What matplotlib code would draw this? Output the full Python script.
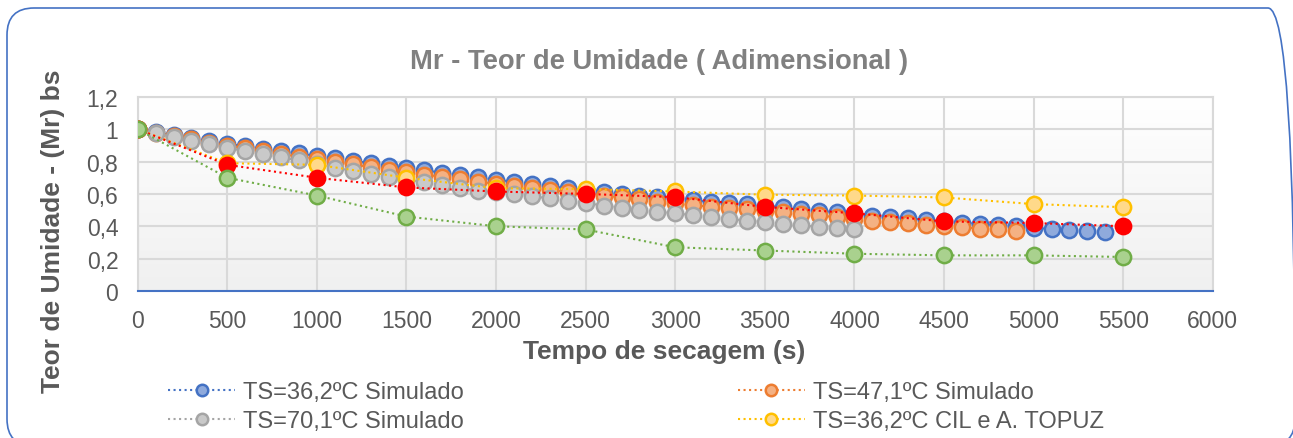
import numpy as np
import matplotlib
matplotlib.use("Agg")
import matplotlib.pyplot as plt
from matplotlib.patches import FancyBboxPatch
from matplotlib.transforms import IdentityTransform
from matplotlib.colors import LinearSegmentedColormap
from matplotlib.ticker import FuncFormatter

plt.rcParams['font.family'] = ['Liberation Sans', 'DejaVu Sans']

# simulated curves (every 100 s)
t_sim36 = list(range(0, 5500, 100))
mr_sim36 = [1.0, 0.98, 0.962, 0.944, 0.927, 0.91, 0.895, 0.88, 0.865, 0.85,
            0.835, 0.82, 0.805, 0.79, 0.775, 0.76, 0.746, 0.731, 0.717, 0.702,
            0.688, 0.675, 0.661, 0.648, 0.635, 0.622, 0.61, 0.6, 0.59, 0.58,
            0.57, 0.56, 0.551, 0.543, 0.535, 0.526, 0.518, 0.508, 0.497, 0.487,
            0.476, 0.466, 0.457, 0.448, 0.44, 0.432, 0.423, 0.415, 0.407, 0.399,
            0.39, 0.383, 0.376, 0.369, 0.363]

t_sim47 = list(range(0, 5000, 100))
mr_sim47 = [1.0, 0.978, 0.957, 0.937, 0.917, 0.898, 0.881, 0.864, 0.847, 0.83,
            0.814, 0.798, 0.782, 0.766, 0.75, 0.735, 0.72, 0.705, 0.69, 0.676,
            0.662, 0.648, 0.636, 0.624, 0.612, 0.6, 0.59, 0.578, 0.566, 0.553,
            0.541, 0.53, 0.521, 0.512, 0.504, 0.495, 0.487, 0.477, 0.467, 0.456,
            0.445, 0.435, 0.426, 0.418, 0.41, 0.401, 0.393, 0.386, 0.38, 0.373]

t_sim70 = list(range(0, 4100, 100))
mr_sim70 = [1.0, 0.975, 0.952, 0.93, 0.907, 0.885, 0.865, 0.845, 0.826, 0.807,
            0.784, 0.762, 0.743, 0.724, 0.704, 0.688, 0.673, 0.655, 0.637, 0.62,
            0.61, 0.6, 0.586, 0.572, 0.558, 0.545, 0.528, 0.515, 0.503, 0.491,
            0.48, 0.468, 0.456, 0.445, 0.435, 0.425, 0.415, 0.405, 0.397, 0.388,
            0.38]

# experimental points (every 500 s)
t_exp = [0, 500, 1000, 1500, 2000, 2500, 3000, 3500, 4000, 4500, 5000, 5500]
mr_topuz = [1.0, 0.79, 0.78, 0.70, 0.635, 0.63, 0.615, 0.595, 0.59, 0.578, 0.537, 0.518]
mr_red = [1.0, 0.78, 0.70, 0.64, 0.615, 0.60, 0.58, 0.52, 0.48, 0.43, 0.42, 0.40]
mr_green = [1.0, 0.70, 0.59, 0.46, 0.40, 0.38, 0.27, 0.25, 0.23, 0.22, 0.22, 0.21]

x_ticks = [0, 500, 1000, 1500, 2000, 2500, 3000, 3500, 4000, 4500, 5000, 5500, 6000]
y_ticks = [0, 0.2, 0.4, 0.6, 0.8, 1.0, 1.2]

fig = plt.figure(figsize=(12.93, 4.39), dpi=100)
ax = fig.add_axes([0.1065, 0.335, 0.8315, 0.442])

# rounded frame around the chart (pixel coords)
frame = FancyBboxPatch((7, -8), 1288, 438,
                       boxstyle="round,pad=0,rounding_size=27",
                       transform=IdentityTransform(), fill=False,
                       edgecolor='#4472C4', linewidth=1.2, zorder=0)
fig.patches.append(frame)

# light gradient in the plot area
grad = np.linspace(1, 0, 100).reshape(-1, 1)
ax.imshow(grad, extent=[0, 1, 0, 1], transform=ax.transAxes, aspect='auto',
          cmap=LinearSegmentedColormap.from_list('g', ['#F0F0F0', '#FFFFFF']),
          zorder=0)

ms = 11
l_blue, = ax.plot(t_sim36, mr_sim36, ':', color='#4472C4', lw=1.5, marker='o', ms=ms,
                  mfc='#8FAADC', mec='#4472C4', mew=1.8, zorder=3,
                  label='TS=36,2ºC Simulado')
l_orange, = ax.plot(t_sim47, mr_sim47, ':', color='#ED7D31', lw=1.5, marker='o', ms=ms,
                    mfc='#F4B183', mec='#ED7D31', mew=1.8, zorder=4,
                    label='TS=47,1ºC Simulado')
l_gray, = ax.plot(t_sim70, mr_sim70, ':', color='#A5A5A5', lw=1.5, marker='o', ms=ms,
                  mfc='#C9C9C9', mec='#A5A5A5', mew=1.8, zorder=5,
                  label='TS=70,1ºC Simulado')
l_yellow, = ax.plot(t_exp, mr_topuz, ':', color='#FFC000', lw=1.5, marker='o', ms=ms,
                    mfc='#FFD98A', mec='#FFC000', mew=1.8, zorder=6,
                    label='TS=36,2ºC CIL e A. TOPUZ')
ax.plot(t_exp, mr_red, ':', color='#FF0000', lw=1.5, marker='o', ms=ms,
        mfc='#FF0000', mec='#FF0000', mew=1.8, zorder=7)
ax.plot(t_exp, mr_green, ':', color='#70AD47', lw=1.5, marker='o', ms=ms,
        mfc='#A9D18E', mec='#70AD47', mew=1.8, zorder=8)

ax.set_xlim(0, 6000)
ax.set_ylim(0, 1.2)
ax.set_xticks(x_ticks)
ax.set_yticks(y_ticks)
ax.yaxis.set_major_formatter(FuncFormatter(lambda v, p: ('%g' % round(v, 1)).replace('.', ',')))
ax.grid(True, color='#D9D9D9', lw=1.5, zorder=1)
ax.set_axisbelow(True)
for s in ['top', 'right', 'left']:
    ax.spines[s].set_color('#D9D9D9')
    ax.spines[s].set_linewidth(1.5)
ax.spines['bottom'].set_color('#4472C4')
ax.spines['bottom'].set_linewidth(1.5)
ax.tick_params(length=0, labelsize=16.5, colors='#595959')
ax.tick_params(axis='x', pad=13)
ax.tick_params(axis='y', pad=14)

fig.text(0.51, (439 - 62) / 439, 'Mr - Teor de Umidade ( Adimensional )', fontsize=19.7,
         fontweight='bold', color='#808080', ha='center', va='center')
ax.set_xlabel('Tempo de secagem (s)', fontsize=19, fontweight='bold', color='#595959')
ax.xaxis.set_label_coords(0.49, -0.248)
ax.set_ylabel('Teor de Umidade - (Mr) bs', fontsize=19, fontweight='bold', color='#595959')
ax.yaxis.label.set_va('center')
ax.yaxis.set_label_coords(-0.0788, 0.314)

fig.legend(handles=[l_blue, l_gray, l_orange, l_yellow], ncol=2, loc='upper left',
           bbox_to_anchor=(168 / 1293, (439 - 382) / 439), frameon=False, fontsize=17,
           labelcolor='#595959', columnspacing=11.6, handlelength=2.84, markerscale=0.75,
           handletextpad=0.34, labelspacing=0.3, borderpad=0, borderaxespad=0)

fig.savefig('out.png', dpi=100)
